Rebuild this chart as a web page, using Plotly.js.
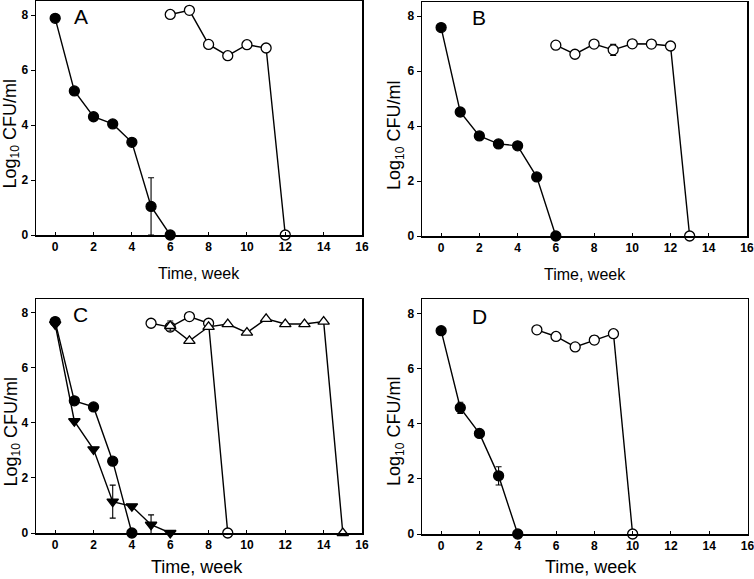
<!DOCTYPE html>
<html>
<head>
<meta charset="utf-8">
<script src="https://cdn.plot.ly/plotly-3.0.1.min.js"></script>
<style>html,body{margin:0;padding:0;background:#fff;}#chart{width:754px;height:579px;}</style>
</head>
<body>
<div id="chart"></div>
<script>
// ---- Data (weeks, log10 CFU/ml) ----
// Panel A
const A_fill_x = [0, 1, 2, 3, 4, 5, 6];
const A_fill_y = [7.88, 5.24, 4.30, 4.04, 3.37, 1.04, 0];
const A_fill_err = [null, null, null, null, null, 1.04, null];
const A_open_x = [6, 7, 8, 9, 10, 11, 12];
const A_open_y = [8.02, 8.17, 6.93, 6.52, 6.92, 6.80, 0];

// Panel B
const B_fill_x = [0, 1, 2, 3, 4, 5, 6];
const B_fill_y = [7.58, 4.51, 3.64, 3.35, 3.28, 2.15, 0];
const B_fill_err = [null, null, null, null, null, 0.12, null];
const B_open_x = [6, 7, 8, 9, 10, 11, 12, 13];
const B_open_y = [6.94, 6.61, 6.98, 6.77, 6.99, 6.98, 6.91, 0];
const B_open_err = [null, null, null, 0.2, null, null, null, null];

// Panel C
const C_fill_x = [0, 1, 2, 3, 4];
const C_fill_y = [7.68, 4.80, 4.58, 2.61, 0];
const C_fill_err = [null, null, null, 0.12, null];
const C_tri_x = [0, 1, 2, 3, 4, 5, 6];
const C_tri_y = [7.58, 4.06, 3.04, 1.14, 0.97, 0.30, 0];
const C_tri_err = [null, null, null, 0.6, null, 0.36, null];
const C_open_x = [5, 6, 7, 8, 9];
const C_open_y = [7.62, 7.48, 7.86, 7.62, 0];
const C_otri_x = [6, 7, 8, 9, 10, 11, 12, 13, 14, 15];
const C_otri_y = [7.52, 6.98, 7.49, 7.59, 7.28, 7.78, 7.59, 7.59, 7.68, 0];
const C_otri_err = [0.18, null, null, null, null, null, null, null, null, null];

// Panel D
const D_fill_x = [0, 1, 2, 3, 4];
const D_fill_y = [7.38, 4.58, 3.65, 2.11, 0];
const D_fill_err = [null, 0.2, null, 0.33, null];
const D_open_x = [5, 6, 7, 8, 9, 10];
const D_open_y = [7.41, 7.17, 6.79, 7.04, 7.27, 0];
const D_open_err = [null, null, null, 0.15, null, null];

const panelLabels = ['A', 'B', 'C', 'D'];
const xTicks = [0, 2, 4, 6, 8, 10, 12, 14, 16];
const yTicks = [0, 2, 4, 6, 8];
const xTitle = 'Time, week';
const yTitle = 'Log<sub><span style="font-size:12px">10</span></sub> CFU/ml';

// ---- Styling helpers ----
const W = 754, H = 579;
const FONT = 'Liberation Sans, Arial, sans-serif';
function px(x) { return x / W; }
function py(y) { return 1 - y / H; }

function series(x, y, err, ax, symbol, filled) {
  const t = {
    type: 'scatter', mode: 'lines+markers', x: x, y: y,
    xaxis: 'x' + ax, yaxis: 'y' + ax, cliponaxis: false,
    line: { color: '#000', width: 1.4 },
    marker: {
      symbol: symbol, size: 10,
      color: filled ? '#000' : '#fff',
      line: { color: '#000', width: 1.3 }
    },
    showlegend: false, hoverinfo: 'x+y'
  };
  if (err) {
    t.error_y = { type: 'data', array: err, visible: true, color: '#000', thickness: 1.1, width: 3 };
  }
  return t;
}

const data = [
  series(A_fill_x, A_fill_y, A_fill_err, '', 'circle', true),
  series(A_open_x, A_open_y, null, '', 'circle', false),
  series(B_fill_x, B_fill_y, B_fill_err, '2', 'circle', true),
  series(B_open_x, B_open_y, B_open_err, '2', 'circle', false),
  series(C_tri_x, C_tri_y, C_tri_err, '3', 'triangle-down', true),
  series(C_fill_x, C_fill_y, C_fill_err, '3', 'circle', true),
  series(C_open_x, C_open_y, null, '3', 'circle', false),
  series(C_otri_x, C_otri_y, C_otri_err, '3', 'triangle-up', false),
  series(D_fill_x, D_fill_y, D_fill_err, '4', 'circle', true),
  series(D_open_x, D_open_y, D_open_err, '4', 'circle', false)
];

const tickFont = { family: FONT, size: 12, color: '#000', weight: 'bold' };

function xax(d0, d1, anchor) {
  return {
    domain: [px(d0), px(d1)], anchor: anchor, range: [-1, 16],
    tickvals: xTicks, ticks: 'inside', ticklen: 3, tickwidth: 1, tickcolor: '#000',
    showline: true, mirror: true, linecolor: '#000', linewidth: 1.5,
    showgrid: false, zeroline: false, ticklabeloverflow: 'allow',
    tickfont: tickFont
  };
}
function yax(top, bottom, anchor, r1) {
  return {
    domain: [py(bottom), py(top)], anchor: anchor, range: [0, r1],
    tickvals: yTicks, ticks: 'outside', ticklen: 4, tickwidth: 1, tickcolor: '#000',
    showline: true, mirror: true, linecolor: '#000', linewidth: 1.5,
    showgrid: false, zeroline: false, ticklabeloverflow: 'allow',
    tickfont: tickFont
  };
}

const anns = [];
function lab(text, xref, yref, x, y) {
  anns.push({ text: text, xref: xref, yref: yref, x: x, y: y, showarrow: false,
    xanchor: 'center', yanchor: 'middle', font: { family: FONT, size: 21, color: '#000' } });
}
lab(panelLabels[0], 'x', 'y', 1.33, 7.93);
lab(panelLabels[1], 'x2', 'y2', 2.0, 7.96);
lab(panelLabels[2], 'x3', 'y3', 1.33, 7.92);
lab(panelLabels[3], 'x4', 'y4', 2.0, 7.89);

function titleX(cx, cy, size) {
  anns.push({ text: xTitle, xref: 'paper', yref: 'paper', x: px(cx), y: py(cy), showarrow: false,
    xanchor: 'center', yanchor: 'middle', font: { family: FONT, size: size, color: '#000' } });
}
function titleY(cx, cy, size) {
  anns.push({ text: yTitle, xref: 'paper', yref: 'paper', x: px(cx), y: py(cy), showarrow: false,
    textangle: -90, xanchor: 'center', yanchor: 'middle', font: { family: FONT, size: size, color: '#000' } });
}
titleX(199, 273, 16);
titleX(585, 274, 16);
titleX(197, 567, 18);
titleX(591, 567, 18);
titleY(11.5, 134, 18);
titleY(395, 136, 18);
titleY(11.5, 432, 18);
titleY(395, 432, 18);

const layout = {
  width: W, height: H,
  margin: { l: 0, r: 0, t: 0, b: 0 },
  paper_bgcolor: '#fff', plot_bgcolor: '#fff',
  font: { family: FONT },
  showlegend: false,
  xaxis: xax(36, 362, 'y'),
  yaxis: yax(1, 235, 'x', 8.51),
  xaxis2: xax(422, 747, 'y2'),
  yaxis2: yax(2, 236, 'x2', 8.51),
  xaxis3: xax(36, 362, 'y3'),
  yaxis3: yax(299, 533, 'x3', 8.5),
  xaxis4: xax(422, 747.5, 'y4'),
  yaxis4: yax(299, 534, 'x4', 8.53),
  annotations: anns
};

Plotly.newPlot('chart', data, layout, { displayModeBar: false, staticPlot: true });
</script>
</body>
</html>
